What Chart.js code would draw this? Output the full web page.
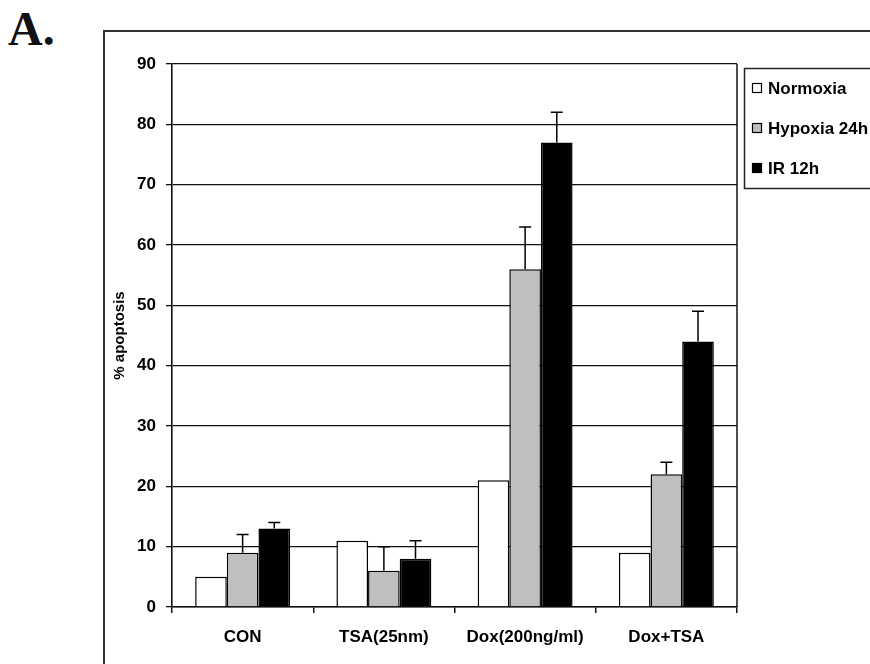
<!DOCTYPE html>
<html lang="en">
<head>
  <meta charset="UTF-8">
  <title>% apoptosis</title>
  <script src="https://cdn.jsdelivr.net/npm/chart.js"></script>
  <style>
    body { margin: 0; width: 870px; height: 664px; overflow: hidden; background: #fff; position: relative; }
    /* outer frame of the figure panel, runs off the page at right and bottom */
    #frame { position: absolute; left: 103px; top: 30px; width: 900px; height: 800px; border: 2px solid #333; }
    #panel { position: absolute; left: 8px; top: 5px; font: bold 48px "Liberation Serif", "Times New Roman", serif; line-height: 1; color: #111; }
    #wrap { position: absolute; left: 0; top: 0; width: 870px; height: 664px; }
  </style>
</head>
<body>
  <div id="frame"></div>
  <div id="panel">A.</div>
  <div id="wrap"><canvas id="chart" width="870" height="664"></canvas></div>

<script>
// data
const categories = ['CON', 'TSA(25nm)', 'Dox(200ng/ml)', 'Dox+TSA'];
const seriesNames = ['Normoxia', 'Hypoxia 24h', 'IR 12h'];
const normoxia = [5, 11, 21, 9];
const hypoxia = [9, 6, 56, 22];
const hypoxiaErr = [3, 4, 7, 2];
const ir = [13, 8, 77, 44];
const irErr = [1, 3, 5, 5];
const yTicks = [0, 10, 20, 30, 40, 50, 60, 70, 80, 90];

const fills = ['#ffffff', '#bfbfbf', '#000000'];
const FONT = '"Liberation Sans", Arial, sans-serif';

// upward error bars with a cap, placed through the y scale
const errorBars = {
  id: 'errorBars',
  afterDatasetsDraw(chart) {
    const ctx = chart.ctx, y = chart.scales.y;
    ctx.save();
    ctx.strokeStyle = '#000';
    ctx.lineWidth = 1.5;
    chart.data.datasets.forEach((ds, di) => {
      if (!ds.err) return;
      const meta = chart.getDatasetMeta(di);
      meta.data.forEach((bar, i) => {
        const top = y.getPixelForValue(ds.data[i] + ds.err[i]);
        ctx.beginPath();
        ctx.moveTo(bar.x, bar.y);
        ctx.lineTo(bar.x, top);
        ctx.moveTo(bar.x - 6, top);
        ctx.lineTo(bar.x + 6, top);
        ctx.stroke();
      });
    });
    ctx.restore();
  }
};

// right edge of the plot box + boxed legend on the right
const plotBox = {
  id: 'plotBox',
  beforeDatasetsDraw(chart) {
    const { ctx, chartArea: a } = chart;
    ctx.save();
    ctx.strokeStyle = '#111';
    ctx.lineWidth = 1.5;
    ctx.beginPath();
    ctx.moveTo(a.right, a.top);
    ctx.lineTo(a.right, a.bottom);
    ctx.stroke();
    ctx.restore();
  },
  afterDraw(chart) {
    const ctx = chart.ctx;
    const bx = 744, by = 68;
    ctx.save();
    ctx.strokeStyle = '#222';
    ctx.lineWidth = 1.5;
    ctx.strokeRect(bx + 0.5, by + 0.5, 200, 120);
    ctx.font = 'bold 17px ' + FONT;
    ctx.textBaseline = 'middle';
    seriesNames.forEach((name, i) => {
      const cy = by + 20 + i * 40;
      ctx.fillStyle = fills[i];
      ctx.fillRect(752, cy - 5, 10, 10);
      ctx.strokeStyle = '#000';
      ctx.lineWidth = 1.2;
      ctx.strokeRect(752.5, cy - 4.5, 9, 9);
      ctx.fillStyle = '#000';
      ctx.fillText(name, 768, cy + 1);
    });
    ctx.restore();
  }
};

new Chart(document.getElementById('chart'), {
  type: 'bar',
  data: {
    labels: categories,
    datasets: [
      { label: seriesNames[0], data: normoxia, backgroundColor: fills[0] },
      { label: seriesNames[1], data: hypoxia, err: hypoxiaErr, backgroundColor: fills[1] },
      { label: seriesNames[2], data: ir, err: irErr, backgroundColor: fills[2] }
    ]
  },
  options: {
    responsive: false,
    animation: false,
    devicePixelRatio: 1,
    layout: { padding: { left: 100, top: 64, right: 133, bottom: 0 } },
    datasets: {
      bar: { borderColor: '#000', borderWidth: 1.5, categoryPercentage: 0.672, barPercentage: 1 }
    },
    plugins: { legend: { display: false }, tooltip: { enabled: false } },
    scales: {
      x: {
        grid: { drawOnChartArea: false, drawTicks: true, tickLength: 6, color: '#111', lineWidth: 1.5 },
        border: { color: '#111', width: 1.5 },
        ticks: { color: '#000', padding: 14, font: { family: FONT, size: 17, weight: 'bold' } },
        afterFit(s) { s.height = 57; }
      },
      y: {
        min: 0,
        max: 90,
        afterBuildTicks(s) { s.ticks = yTicks.map(v => ({ value: v })); },
        grid: { color: '#111', lineWidth: 1.3, tickLength: 6 },
        border: { color: '#111', width: 1.6 },
        ticks: { color: '#000', padding: 10, font: { family: FONT, size: 17, weight: 'bold' } },
        title: {
          display: true,
          text: '% apoptosis',
          color: '#000',
          padding: { top: 11, bottom: 0 },
          font: { family: FONT, size: 15, weight: 'bold' }
        },
        afterFit(s) { s.width = 72; }
      }
    }
  },
  plugins: [errorBars, plotBox]
});
</script>
</body>
</html>
